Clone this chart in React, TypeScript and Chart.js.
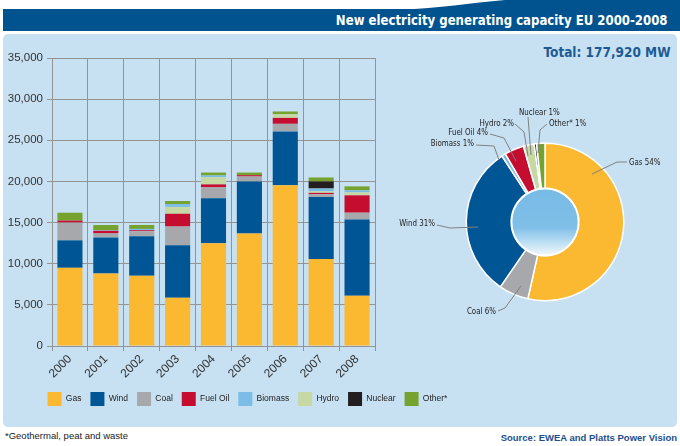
import React, { useEffect, useRef } from 'react';
import { Chart, registerables } from 'chart.js';

Chart.register(...registerables);

// ---------- DATA ----------
const YEARS = ['2000', '2001', '2002', '2003', '2004', '2005', '2006', '2007', '2008'];
const GAS = [9500, 8800, 8550, 5860, 12480, 13680, 19530, 10560, 6120];
const WIND = [3340, 4400, 4800, 6380, 5470, 6320, 6550, 7540, 9240];
const COAL = [2160, 480, 600, 2280, 1330, 600, 920, 350, 840];
const FUEL_OIL = [240, 320, 120, 1550, 360, 160, 720, 160, 2110];
const HYDRO = [0, 0, 0, 830, 880, 0, 440, 200, 360];
const BIOMASS = [0, 60, 160, 360, 200, 0, 0, 330, 240];
const NUCLEAR = [0, 0, 0, 0, 0, 0, 0, 860, 0];
const OTHER = [960, 640, 480, 360, 360, 320, 340, 480, 490];

const Y_MAX = 35000;
const Y_STEP = 5000;

const LEGEND_ORDER = ['Gas', 'Wind', 'Coal', 'Fuel Oil', 'Biomass', 'Hydro', 'Nuclear', 'Other*'];

const SHARE_LABELS = ['Gas', 'Coal', 'Wind', 'Biomass', 'Fuel Oil', 'Hydro', 'Nuclear', 'Other*'];
const SHARE_VALUES = [53.5, 6.1, 31.2, 0.8, 4.0, 2.2, 0.5, 1.7];
const SHARE_TEXT = ['Gas 54%', 'Coal 6%', 'Wind 31%', 'Biomass 1%', 'Fuel Oil 4%', 'Hydro 2%', 'Nuclear 1%', 'Other* 1%'];

const TITLE = 'New electricity generating capacity EU 2000-2008';
const TOTAL_TEXT = 'Total: 177,920 MW';
const FOOTNOTE = '*Geothermal, peat and waste';
const SOURCE = 'Source: EWEA and Platts Power Vision';

// ---------- STYLE ----------
const COLORS: Record<string, string> = {
  Gas: '#fbb831',
  Wind: '#005694',
  Coal: '#a7a8ab',
  'Fuel Oil': '#c40d2f',
  Biomass: '#7bbde6',
  Hydro: '#c6d8a4',
  Nuclear: '#231f20',
  'Other*': '#76a22f',
};
const NAVY = '#00538f';
const PANEL = '#c7e1f3';
const GRID = '#949494';
const COND = "'DejaVu Sans Condensed', 'DejaVu Sans', sans-serif";
const SANS = "'Liberation Sans', Arial, sans-serif";

// leader-line geometry for pie labels, relative to doughnut centre
const PIE_LABEL_LAYOUT = [
  { pts: [[47, -48], [72, -60], [82, -60]], tx: 84, ty: -59, align: 'left' },
  { pts: [[-24, 64], [-40, 86], [-47, 89]], tx: -49, ty: 90, align: 'right' },
  { pts: [[-67, 5], [-95, 6], [-108, 3]], tx: -110, ty: 2, align: 'right' },
  { pts: [[-46, -62], [-51, -76], [-69, -77]], tx: -71, ty: -78, align: 'right' },
  { pts: [[-29, -61], [-41, -84], [-55, -88]], tx: -57, ty: -89, align: 'right' },
  { pts: [[-17, -66], [-21, -90], [-30, -98]], tx: -31, ty: -98, align: 'right' },
  { pts: [[-14, -67], [-17, -105]], tx: -26, ty: -109, align: 'left' },
  { pts: [[-7, -69], [-5, -92], [2, -98]], tx: 4, ty: -98, align: 'left' },
];
const PIE_TEXT_SQUEEZE = 0.83;

const pieExtras = {
  id: 'pieExtras',
  afterDatasetsDraw(chart: any) {
    const arc = chart.getDatasetMeta(0).data[0];
    if (!arc) return;
    const { x, y, innerRadius } = arc.getProps(['x', 'y', 'innerRadius'], true);
    const ctx = chart.ctx;
    const r = innerRadius - 0.5;
    const g = ctx.createLinearGradient(0, y - r, 0, y + r);
    g.addColorStop(0, '#77bbe6');
    g.addColorStop(0.58, '#7fbfe8');
    g.addColorStop(1, '#f2f9fd');
    ctx.save();
    ctx.beginPath();
    ctx.arc(x, y, r, 0, Math.PI * 2);
    ctx.fillStyle = g;
    ctx.fill();
    ctx.lineWidth = 1.5;
    ctx.strokeStyle = '#ffffff';
    ctx.stroke();
    ctx.restore();
  },
  afterDraw(chart: any) {
    const arc = chart.getDatasetMeta(0).data[0];
    if (!arc) return;
    const { x, y } = arc.getProps(['x', 'y'], true);
    const ctx = chart.ctx;
    ctx.save();
    ctx.strokeStyle = '#808080';
    ctx.lineWidth = 1;
    ctx.font = `9.5px ${COND}`;
    ctx.fillStyle = '#222';
    ctx.textBaseline = 'middle';
    PIE_LABEL_LAYOUT.forEach((l, i) => {
      ctx.beginPath();
      l.pts.forEach((p, j) => {
        if (j === 0) ctx.moveTo(x + p[0], y + p[1]);
        else ctx.lineTo(x + p[0], y + p[1]);
      });
      ctx.stroke();
      ctx.save();
      ctx.translate(x + l.tx, y + l.ty);
      ctx.scale(PIE_TEXT_SQUEEZE, 1);
      ctx.textAlign = l.align as CanvasTextAlign;
      ctx.fillText(SHARE_TEXT[i], 0, 0);
      ctx.restore();
    });
    ctx.restore();
  },
};

function BarChart() {
  const ref = useRef<HTMLCanvasElement>(null);
  useEffect(() => {
    const series: [string, number[]][] = [
      ['Gas', GAS],
      ['Wind', WIND],
      ['Coal', COAL],
      ['Fuel Oil', FUEL_OIL],
      ['Hydro', HYDRO],
      ['Biomass', BIOMASS],
      ['Nuclear', NUCLEAR],
      ['Other*', OTHER],
    ];
    const chart = new Chart(ref.current!, {
      type: 'bar',
      data: {
        labels: YEARS,
        datasets: series.map(([label, data]) => ({
          label,
          data,
          backgroundColor: COLORS[label],
          borderWidth: 0,
          barPercentage: 0.7,
          categoryPercentage: 1,
        })),
      },
      options: {
        animation: false,
        responsive: false,
        maintainAspectRatio: false,
        layout: { padding: { top: 24, bottom: 11, left: 0, right: 0 } },
        plugins: {
          tooltip: { enabled: false },
          legend: {
            position: 'bottom',
            labels: {
              boxWidth: 14,
              boxHeight: 14,
              padding: 9,
              color: '#222',
              font: { family: SANS, size: 8.5 },
              sort: (a: any, b: any) => LEGEND_ORDER.indexOf(a.text) - LEGEND_ORDER.indexOf(b.text),
            },
          },
        },
        scales: {
          x: {
            stacked: true,
            grid: { color: GRID, lineWidth: 1, tickLength: 5, offset: true },
            border: { color: GRID, width: 1 },
            ticks: {
              minRotation: 45,
              maxRotation: 45,
              padding: 1,
              color: '#333',
              font: { family: SANS, size: 12 },
            },
            afterFit: (s: any) => {
              s.height = 37;
            },
          },
          y: {
            stacked: true,
            min: 0,
            max: Y_MAX,
            grid: { color: GRID, lineWidth: 1, tickLength: 5 },
            border: { color: GRID, width: 1 },
            ticks: {
              stepSize: Y_STEP,
              padding: 4,
              color: '#333',
              font: { family: SANS, size: 11.5 },
              callback: (v: any) => Number(v).toLocaleString('en-US'),
            },
            afterFit: (s: any) => {
              s.width = 49;
            },
          },
          spacer: {
            type: 'linear',
            position: 'right',
            display: true,
            grid: { display: false },
            border: { display: false },
            ticks: { display: false },
            afterFit: (s: any) => {
              s.width = 117;
            },
          },
        },
      } as any,
    });
    return () => chart.destroy();
  }, []);
  return (
    <canvas
      ref={ref}
      width={489}
      height={393}
      style={{ position: 'absolute', left: 3, top: 34, width: 489, height: 393 }}
    />
  );
}

function PieChart() {
  const ref = useRef<HTMLCanvasElement>(null);
  useEffect(() => {
    const chart = new Chart(ref.current!, {
      type: 'doughnut',
      data: {
        labels: SHARE_LABELS,
        datasets: [
          {
            data: SHARE_VALUES,
            backgroundColor: SHARE_LABELS.map((l) => COLORS[l]),
            borderColor: '#ffffff',
            borderWidth: 1.5,
          },
        ],
      },
      options: {
        animation: false,
        responsive: false,
        maintainAspectRatio: false,
        cutout: '43%',
        layout: { padding: { left: 75.5, top: 47.5, right: 52.5, bottom: 23.5 } },
        plugins: { legend: { display: false }, tooltip: { enabled: false } },
      } as any,
      plugins: [pieExtras],
    });
    return () => chart.destroy();
  }, []);
  return (
    <canvas
      ref={ref}
      width={287}
      height={230}
      style={{ position: 'absolute', left: 390, top: 95, width: 287, height: 230 }}
    />
  );
}

export default function App() {
  return (
    <div
      style={{
        position: 'absolute',
        left: 0,
        top: 0,
        width: 680,
        height: 446,
        background: '#ffffff',
        overflow: 'hidden',
        fontFamily: SANS,
      }}
    >
      <svg width={680} height={12} style={{ position: 'absolute', left: 0, top: 0 }}>
        <path d="M400 10 C 440 8, 470 3, 505 0 L 680 0 L 680 10 Z" fill={NAVY} />
      </svg>
      <div
        style={{
          position: 'absolute',
          left: 3,
          top: 9,
          width: 677,
          height: 22,
          background: NAVY,
        }}
      />
      <div
        style={{
          position: 'absolute',
          right: 12,
          top: 9,
          color: '#fff',
          font: `bold 14.5px ${COND}`,
          lineHeight: '22px',
          whiteSpace: 'nowrap',
          transform: 'scaleX(0.9)',
          transformOrigin: 'right center',
        }}
      >
        {TITLE}
      </div>
      <div
        style={{
          position: 'absolute',
          left: 3,
          top: 34,
          width: 674,
          height: 393,
          background: PANEL,
          borderRadius: 5,
        }}
      />
      <div
        style={{
          position: 'absolute',
          right: 9,
          top: 43,
          color: '#1d5a94',
          font: `bold 14.5px ${COND}`,
          lineHeight: '18px',
          whiteSpace: 'nowrap',
          transform: 'scaleX(0.93)',
          transformOrigin: 'right center',
        }}
      >
        {TOTAL_TEXT}
      </div>
      <BarChart />
      <PieChart />
      <div
        style={{
          position: 'absolute',
          left: 5,
          top: 430,
          color: '#222',
          font: `9.5px ${SANS}`,
          lineHeight: '12px',
          whiteSpace: 'nowrap',
        }}
      >
        {FOOTNOTE}
      </div>
      <div
        style={{
          position: 'absolute',
          right: 3,
          top: 432,
          color: '#1c4f8c',
          font: `bold 9.5px ${SANS}`,
          lineHeight: '12px',
          whiteSpace: 'nowrap',
        }}
      >
        {SOURCE}
      </div>
    </div>
  );
}
